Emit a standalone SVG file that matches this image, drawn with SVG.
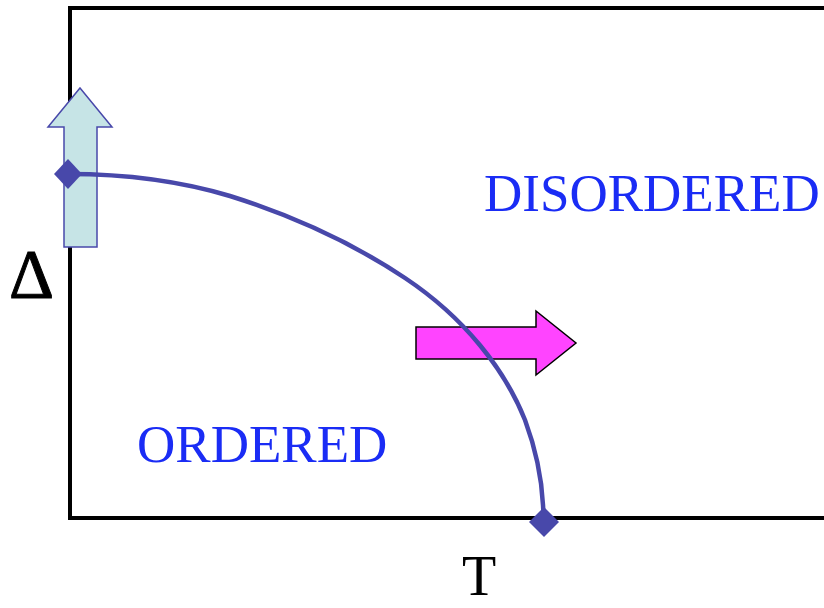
<svg xmlns="http://www.w3.org/2000/svg" width="824" height="608" viewBox="0 0 824 608">
<style>
.lbl{font-family:"Liberation Serif","Times New Roman",serif;fill:#1a2cf5}
.ax{font-family:"Liberation Serif","Times New Roman",serif;fill:#000}
</style>
<rect width="824" height="608" fill="#fff"/>
<g id="frame"><rect x="70" y="8" width="760" height="510" fill="none" stroke="#000" stroke-width="4"/></g>
<g id="up-arrow"><polygon points="80,88 112,127 97,127 97,247 64,247 64,127 48,127" fill="#c6e4e6" stroke="#4848aa" stroke-width="1.5"/></g>
<g id="right-arrow"><polygon points="416,327 536,327 536,311 576,343 536,375 536,359 416,359" fill="#ff44ff" stroke="#000" stroke-width="1.5"/></g>
<g id="connectors"><path d="M68,174 C110,174 170,178 230,196 C300,218 360,248 405,278 C465,318 505,370 525,420 C538,455 542,485 543,505 L544,522" fill="none" stroke="#4848aa" stroke-width="4.5"/></g>
<g id="p1"><polygon points="68,159 82,174 68,189 54,174" fill="#4848aa"/></g>
<g id="p2"><polygon points="544,507 559,522 544,537 529,522" fill="#4848aa"/></g>
<text class="lbl" x="484" y="211" font-size="53">DISORDERED</text>
<text class="lbl" x="137" y="462" font-size="53">ORDERED</text>
<text class="ax" x="9" y="298" font-size="70" stroke="#000" stroke-width="1">Δ</text>
<text class="ax" x="462" y="595" font-size="56">T</text>
</svg>
